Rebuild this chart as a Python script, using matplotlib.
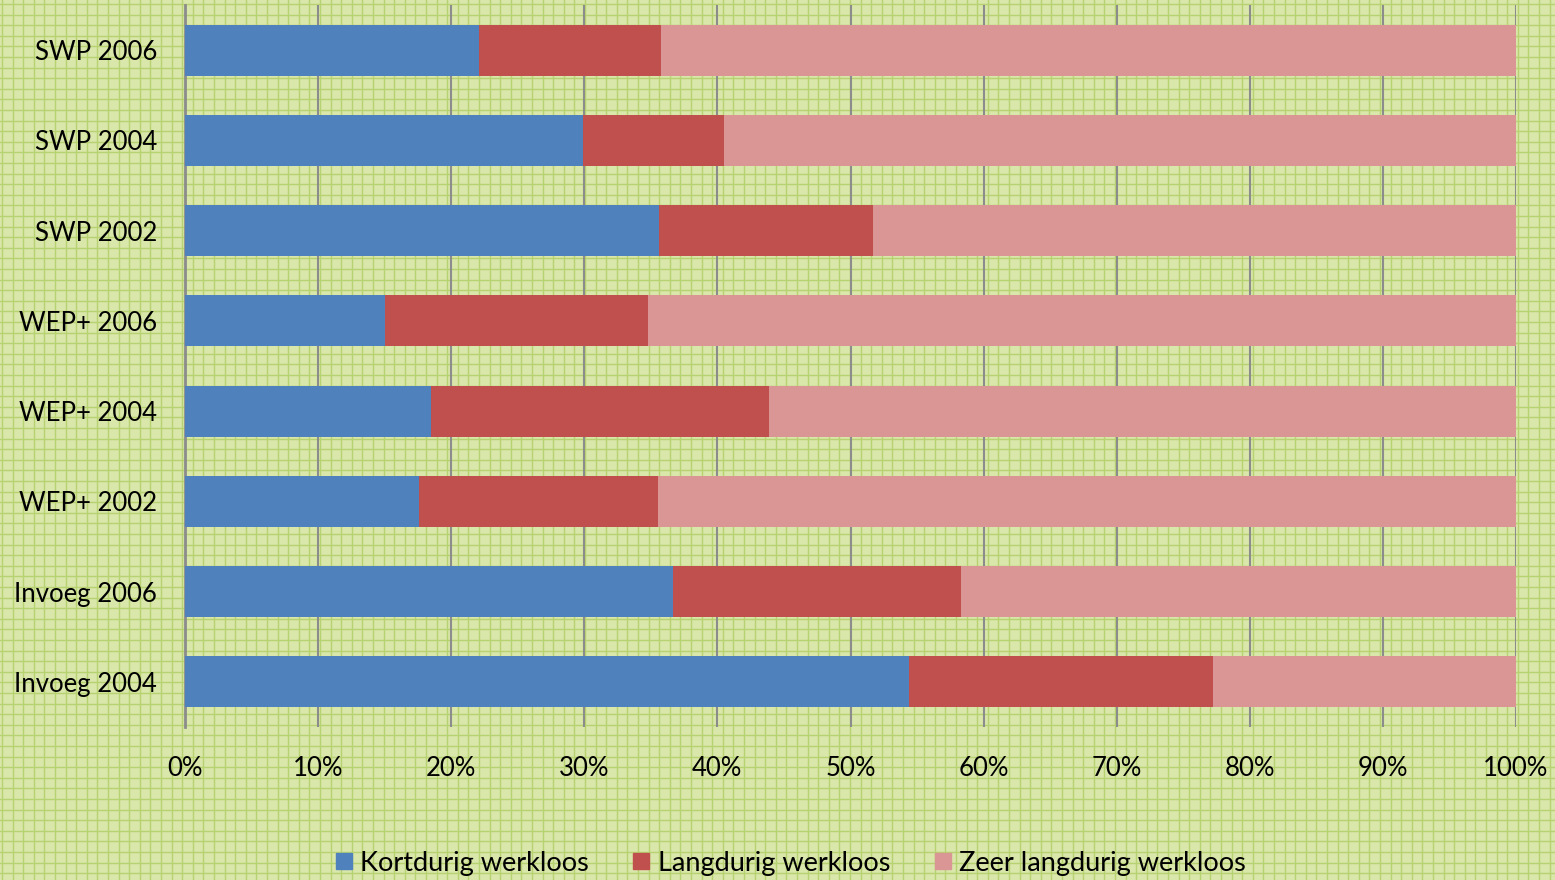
import matplotlib.pyplot as plt
import numpy as np
from matplotlib.lines import Line2D

categories = ["SWP 2006", "SWP 2004", "SWP 2002", "WEP+ 2006",
              "WEP+ 2004", "WEP+ 2002", "Invoeg 2006", "Invoeg 2004"]
kortdurig = [22.1, 29.9, 35.6, 15.0, 18.5, 17.6, 36.7, 54.4]
langdurig = [13.7, 10.6, 16.1, 19.8, 25.4, 17.9, 21.6, 22.8]
zeer_langdurig = [64.2, 59.5, 48.3, 65.2, 56.1, 64.5, 41.7, 22.8]
series_names = ["Kortdurig werkloos", "Langdurig werkloos", "Zeer langdurig werkloos"]
colors = ["#4f81bd", "#c0504d", "#d99694"]

plt.rcParams['font.family'] = ['Lato', 'DejaVu Sans']

W, H = 1555, 880
fig = plt.figure(figsize=(W / 100, H / 100), dpi=100)

# graph-paper background
bg = fig.add_axes([0, 0, 1, 1], zorder=-10)
bg.set_xlim(0, W)
bg.set_ylim(H, 0)
bg.axis('off')
bg.add_patch(plt.Rectangle((0, 0), W, H, facecolor="#d9e7aa", edgecolor='none'))
step = 10.6
for x in np.arange(2, W, step):
    bg.axvline(x, color="#b7d270", lw=1.0)
for y in np.arange(4, H, step):
    bg.axhline(y, color="#b7d270", lw=1.0)

# main plot area (pixel coords -> figure fractions)
left, right, top, bottom = 185, 1516, 5, 727
ax = fig.add_axes([left / W, 1 - bottom / H, (right - left) / W, (bottom - top) / H])
ax.patch.set_alpha(0)

y = np.arange(len(categories))
data = [kortdurig, langdurig, zeer_langdurig]
tot = np.array(kortdurig) + np.array(langdurig) + np.array(zeer_langdurig)
base = np.zeros(len(categories))
for vals, name, c in zip(data, series_names, colors):
    v = np.array(vals) / tot * 100
    ax.barh(y, v, left=base, height=0.565, color=c, label=name, zorder=3)
    base += v

ax.set_ylim(len(categories) - 0.5, -0.5)
ax.set_xlim(0, 100)
ax.set_xticks(np.arange(0, 101, 10))
ax.set_xticklabels([f"{t}%" for t in range(0, 101, 10)], fontsize=18.5)
ax.set_yticks(y)
ax.set_yticklabels(categories, fontsize=18.5)
ax.tick_params(axis='y', length=0, pad=20)
ax.tick_params(axis='x', length=0, pad=21)
ax.grid(axis='x', color="#8c8c8c", lw=1.5, zorder=1)
for s in ['top', 'right', 'bottom']:
    ax.spines[s].set_visible(False)
ax.spines['left'].set_color("#8c8c8c")
ax.spines['left'].set_linewidth(2)

handles = [Line2D([], [], marker='s', ls='none', markersize=11, color=c) for c in colors]
fig.legend(handles, series_names, loc='center', bbox_to_anchor=(790 / W, 1 - 863 / H),
           ncol=3, frameon=False, fontsize=19.5, handletextpad=0.25, columnspacing=1.6,
           handlelength=0.7)

fig.savefig("out.png", dpi=100)
